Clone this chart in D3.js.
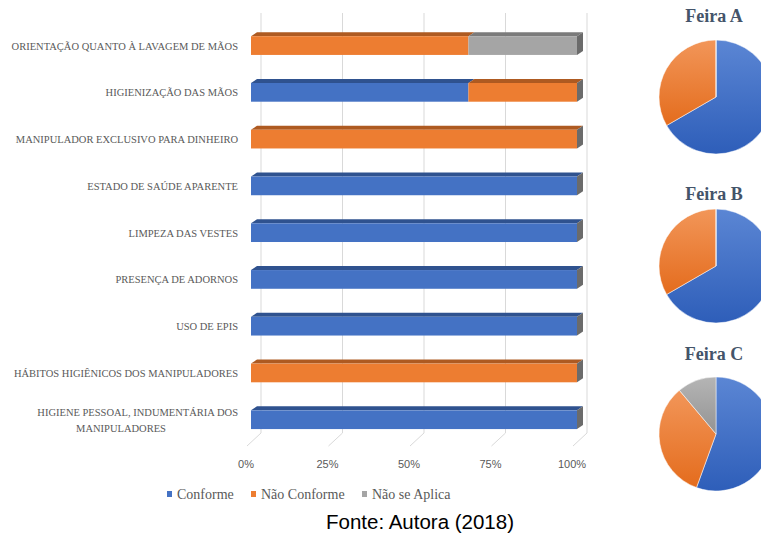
<!DOCTYPE html>
<meta charset="utf-8">
<script src="https://d3js.org/d3.v7.min.js"></script>
<style>
  body { margin: 0; background: #fff; }
  .serif { font-family: "Liberation Serif", "Times New Roman", serif; }
  .sans { font-family: "Liberation Sans", Arial, sans-serif; }
</style>
<div id="chart"></div>
<script>
// dados
var categorias = [
  "ORIENTAÇÃO QUANTO À LAVAGEM DE MÃOS",
  "HIGIENIZAÇÃO DAS MÃOS",
  "MANIPULADOR EXCLUSIVO PARA DINHEIRO",
  "ESTADO DE SAÚDE APARENTE",
  "LIMPEZA DAS VESTES",
  "PRESENÇA DE ADORNOS",
  "USO DE EPIS",
  "HÁBITOS HIGIÊNICOS DOS MANIPULADORES",
  "HIGIENE PESSOAL, INDUMENTÁRIA DOS MANIPULADORES"
];
var conforme    = [0, 66.7, 0, 100, 100, 100, 100, 0, 100];
var naoConforme = [66.7, 33.3, 100, 0, 0, 0, 0, 100, 0];
var naoSeAplica = [33.3, 0, 0, 0, 0, 0, 0, 0, 0];
var series = ["Conforme", "Não Conforme", "Não se Aplica"];
var ticks = [0, 25, 50, 75, 100];

var feiras = ["Feira A", "Feira B", "Feira C"];
var feiraConforme = [6, 6, 5];
var feiraNaoConforme = [3, 3, 3];
var feiraNaoAplica = [0, 0, 1];

var cores = ["#4472C4", "#ED7D31", "#A5A5A5"];
var coresTopo = ["#2F528F", "#AE5A21", "#7B7B7B"];

var W = 761, H = 533;
var svg = d3.select("#chart").append("svg")
  .attr("width", W).attr("height", H);

var tabela = categorias.map(function(c, i) {
  return {cat: c, "Conforme": conforme[i], "Não Conforme": naoConforme[i], "Não se Aplica": naoSeAplica[i]};
});

// escalas
var x = d3.scaleLinear().domain([0, 100]).range([251, 577]);
var xFundo = d3.scaleLinear().domain([0, 100]).range([261, 587]);
var y = d3.scaleBand().domain(categorias).range([22.2, 443.1])
  .paddingInner(0.6).paddingOuter(0.3);
var dx = 6, dy = 4;

// grade no fundo
var grade = svg.append("g");
grade.selectAll(".g").data(ticks).enter().append("line")
  .attr("x1", function(d) { return xFundo(d); }).attr("x2", function(d) { return xFundo(d); })
  .attr("y1", 13).attr("y2", 433)
  .attr("stroke", "#d9d9d9").attr("stroke-width", 1);
grade.selectAll(".p").data(ticks).enter().append("line")
  .attr("x1", function(d) { return xFundo(d); }).attr("x2", function(d) { return xFundo(d) - 14; })
  .attr("y1", 433).attr("y2", 446)
  .attr("stroke", "#d9d9d9").attr("stroke-width", 1);
grade.selectAll("text").data(ticks).enter().append("text")
  .attr("class", "sans")
  .attr("x", function(d) { return xFundo(d) - 15; })
  .attr("y", 468)
  .attr("text-anchor", "middle")
  .style("font-size", "11px")
  .attr("fill", "#595959")
  .text(function(d) { return d + "%"; });

// barras 3D empilhadas
var pilha = d3.stack().keys(series)(tabela);
pilha.forEach(function(s, k) {
  var g = svg.append("g");
  var dados = s.filter(function(d) { return d[1] - d[0] > 0; });
  // topo
  g.selectAll(".topo").data(dados).enter().append("path")
    .attr("d", function(d) {
      var x0 = x(d[0]), x1 = x(d[1]), y0 = y(d.data.cat);
      return "M" + x0 + "," + y0 + "L" + (x0 + dx) + "," + (y0 - dy) +
        "L" + (x1 + dx) + "," + (y0 - dy) + "L" + x1 + "," + y0 + "Z";
    })
    .attr("fill", coresTopo[k]);
  // frente
  g.selectAll(".frente").data(dados).enter().append("rect")
    .attr("x", function(d) { return x(d[0]); })
    .attr("y", function(d) { return y(d.data.cat); })
    .attr("width", function(d) { return x(d[1]) - x(d[0]); })
    .attr("height", y.bandwidth())
    .attr("fill", cores[k]);
  // lado direito
  g.selectAll(".lado").data(dados.filter(function(d) { return d[1] >= 99.9; })).enter().append("path")
    .attr("d", function(d) {
      var x1 = x(d[1]), y0 = y(d.data.cat), y1 = y0 + y.bandwidth();
      return "M" + x1 + "," + y0 + "L" + (x1 + dx) + "," + (y0 - dy) +
        "L" + (x1 + dx) + "," + (y1 - dy) + "L" + x1 + "," + y1 + "Z";
    })
    .attr("fill", "#6b6b6b");
});

// rotulos das categorias
var rot = svg.append("g")
  .attr("class", "serif")
  .style("font-size", "10.5px")
  .attr("fill", "#595959");
categorias.forEach(function(c, i) {
  var yc = y(c) + y.bandwidth() / 2;
  if (i === categorias.length - 1) {
    rot.append("text").attr("x", 238).attr("y", yc - 4).attr("text-anchor", "end")
      .text("HIGIENE PESSOAL, INDUMENTÁRIA DOS");
    rot.append("text").attr("x", 121).attr("y", yc + 12).attr("text-anchor", "middle")
      .text("MANIPULADORES");
  } else {
    rot.append("text").attr("x", 238).attr("y", yc + 4).attr("text-anchor", "end").text(c);
  }
});

// legenda
var legX = [167, 251, 362];
var leg = svg.append("g")
  .attr("class", "serif")
  .style("font-size", "14px")
  .attr("fill", "#595959");
series.forEach(function(s, k) {
  leg.append("rect").attr("x", legX[k]).attr("y", 491).attr("width", 5).attr("height", 6).attr("fill", cores[k]);
  leg.append("text").attr("x", legX[k] + 10).attr("y", 499).text(s);
});

// fonte
svg.append("text").attr("x", 420).attr("y", 529)
  .attr("class", "sans")
  .attr("text-anchor", "middle")
  .style("font-size", "20.5px")
  .attr("fill", "#000")
  .text("Fonte: Autora (2018)");

// pizzas
var defs = svg.append("defs");
var grad = [["#5B86D4", "#2E5EB9"], ["#F29659", "#E46C1D"], ["#B5B5B5", "#939393"]];
grad.forEach(function(g, k) {
  var lg = defs.append("linearGradient").attr("id", "gr" + k)
    .attr("x1", 0).attr("y1", 0).attr("x2", 0).attr("y2", 1);
  lg.append("stop").attr("offset", "0%").attr("stop-color", g[0]);
  lg.append("stop").attr("offset", "100%").attr("stop-color", g[1]);
});
var centrosY = [97, 266, 434];
var titulosY = [22, 200, 360];
var pie = d3.pie().sort(null).value(function(d) { return d; });
var arc = d3.arc().innerRadius(0).outerRadius(57);
feiras.forEach(function(f, i) {
  svg.append("text").attr("x", 714).attr("y", titulosY[i])
    .attr("class", "serif")
    .attr("text-anchor", "middle")
    .style("font-size", "18px").style("font-weight", "bold")
    .attr("fill", "#44546A").text(f);
  var vals = [feiraConforme[i], feiraNaoConforme[i], feiraNaoAplica[i]];
  var g = svg.append("g").attr("transform", "translate(716," + centrosY[i] + ")");
  g.selectAll("path").data(pie(vals)).enter().append("path")
    .attr("d", arc)
    .attr("fill", function(d, k) { return "url(#gr" + k + ")"; })
    .attr("stroke", "#fff").attr("stroke-width", 0.5);
});
</script>
